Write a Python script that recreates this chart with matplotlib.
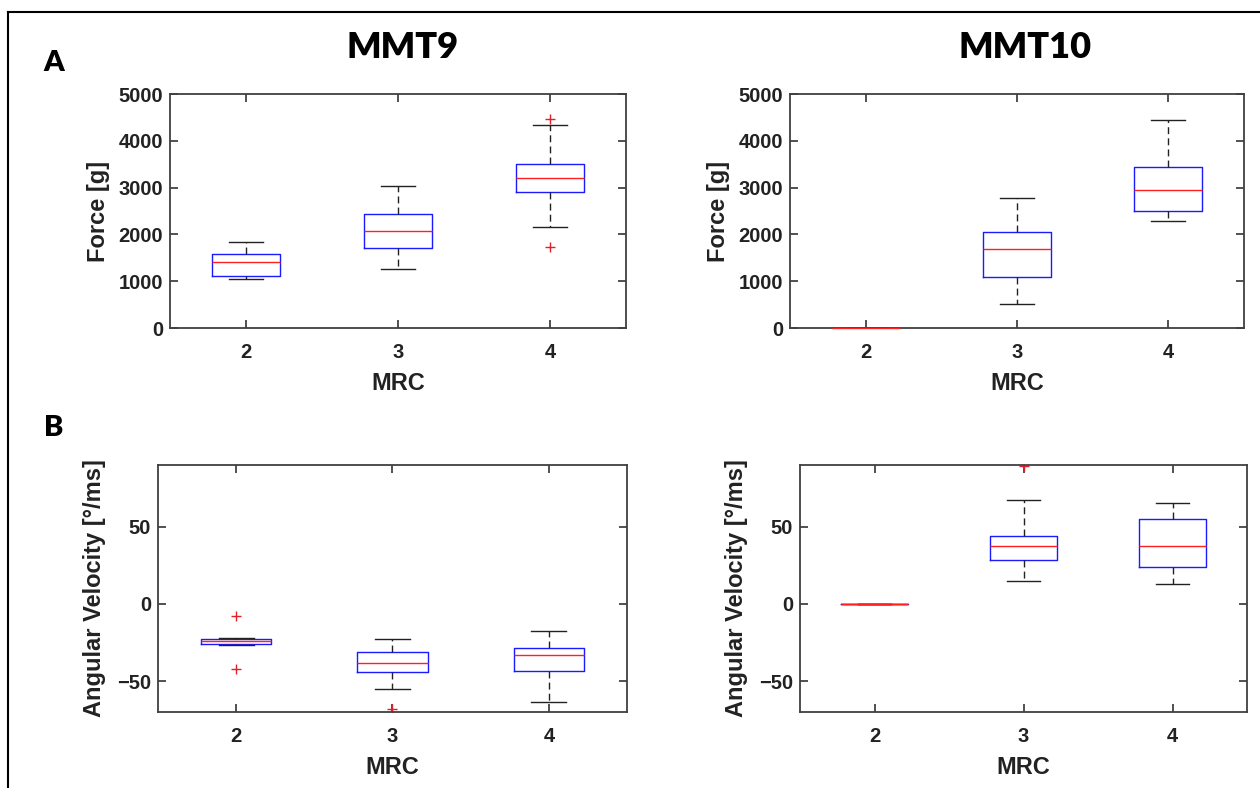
import matplotlib
matplotlib.use("Agg")
import matplotlib.pyplot as plt
from matplotlib.lines import Line2D

plt.rcParams['font.family'] = ['Liberation Sans', 'DejaVu Sans']
plt.rcParams['font.weight'] = 'bold'
plt.rcParams['axes.labelweight'] = 'bold'

mrc = [2, 3, 4]

# MMT9 force [g]
f9_whislo = [1050, 1265, 2160]
f9_q1 = [1115, 1720, 2915]
f9_med = [1420, 2065, 3195]
f9_q3 = [1580, 2435, 3500]
f9_whishi = [1845, 3035, 4330]
f9_fliers = [[], [], [4470, 1735]]

# MMT10 force [g]
f10_whislo = [0, 520, 2295]
f10_q1 = [0, 1100, 2505]
f10_med = [0, 1685, 2940]
f10_q3 = [0, 2055, 3430]
f10_whishi = [0, 2770, 4435]
f10_fliers = [[], [], []]

# MMT9 angular velocity [deg/ms]
v9_whislo = [-26.5, -55.2, -63.6]
v9_q1 = [-26.0, -44.0, -43.5]
v9_med = [-24.3, -38.1, -32.8]
v9_q3 = [-23.0, -31.3, -28.4]
v9_whishi = [-22.2, -22.4, -17.7]
v9_fliers = [[-7.7, -42.0], [-68.0], []]

# MMT10 angular velocity [deg/ms]
v10_whislo = [0, 14.7, 12.9]
v10_q1 = [0, 28.7, 23.7]
v10_med = [0, 37.3, 37.7]
v10_q3 = [0, 44.2, 55.0]
v10_whishi = [0, 67.5, 65.1]
v10_fliers = [[], [89.4], []]


def make_stats(lo, q1, med, q3, hi, fl):
    return [dict(whislo=lo[i], q1=q1[i], med=med[i], q3=q3[i], whishi=hi[i], fliers=fl[i])
            for i in range(len(med))]


def draw_box(ax, stats, ylim, yticks, ylabel, ylabelpad):
    ax.bxp(stats, positions=mrc, widths=0.45, capwidths=0.225, showfliers=True,
           boxprops=dict(color='#1a1aff', linewidth=1.0),
           medianprops=dict(color='#ff2020', linewidth=1.0, zorder=6, clip_on=False),
           whiskerprops=dict(color='#222222', linewidth=1.0, linestyle=(0, (5, 3))),
           capprops=dict(color='#222222', linewidth=1.0),
           flierprops=dict(marker='+', markeredgecolor='#e0202a', markersize=7, linestyle='none'))
    ax.set_xlim(1.5, 4.5)
    ax.set_ylim(*ylim)
    ax.set_yticks(yticks)
    ax.set_xticks(mrc)
    ax.set_xticklabels([str(m) for m in mrc])
    ax.tick_params(direction='in', top=True, right=True, length=6, width=1.2,
                   labelsize=14.5, color='#333333', labelcolor='#222222')
    ax.tick_params(axis='x', pad=11)
    ax.tick_params(axis='y', pad=5)
    for s in ax.spines.values():
        s.set_color('#404040')
        s.set_linewidth(1.3)
    ax.set_xlabel('MRC', fontsize=17, color='#222222', labelpad=7)
    ax.set_ylabel(ylabel, fontsize=17, color='#222222', labelpad=ylabelpad)


fig = plt.figure(figsize=(12.6, 7.88), dpi=100)

ax1 = fig.add_axes([170/1260, 1-328/788, 456/1260, 234/788])
ax2 = fig.add_axes([790/1260, 1-328/788, 454/1260, 234/788])
ax3 = fig.add_axes([158/1260, 1-712/788, 469/1260, 247/788])
ax4 = fig.add_axes([800/1260, 1-712/788, 447/1260, 247/788])

draw_box(ax1, make_stats(f9_whislo, f9_q1, f9_med, f9_q3, f9_whishi, f9_fliers),
         (0, 5000), [0, 1000, 2000, 3000, 4000, 5000], 'Force [g]', 6)
draw_box(ax2, make_stats(f10_whislo, f10_q1, f10_med, f10_q3, f10_whishi, f10_fliers),
         (0, 5000), [0, 1000, 2000, 3000, 4000, 5000], 'Force [g]', 6)
draw_box(ax3, make_stats(v9_whislo, v9_q1, v9_med, v9_q3, v9_whishi, v9_fliers),
         (-70, 90), [-50, 0, 50], 'Angular Velocity [°/ms]', 8)
draw_box(ax4, make_stats(v10_whislo, v10_q1, v10_med, v10_q3, v10_whishi, v10_fliers),
         (-70, 90), [-50, 0, 50], 'Angular Velocity [°/ms]', 8)

title_font = ['Lato', 'DejaVu Sans']
fig.text(403/1260, 1-47/788, 'MMT9', family=title_font, fontsize=26, fontweight='heavy',
         ha='center', va='center')
fig.text(1025/1260, 1-47/788, 'MMT10', family=title_font, fontsize=26, fontweight='heavy',
         ha='center', va='center')
fig.text(54/1260, 1-63/788, 'A', family=title_font, fontsize=21, fontweight='heavy',
         ha='center', va='center')
fig.text(54/1260, 1-428/788, 'B', family=title_font, fontsize=21, fontweight='heavy',
         ha='center', va='center')

# outer frame (cut at right and bottom in the original)
fig.add_artist(Line2D([8/1260, 1], [1-12/788, 1-12/788], color='black', linewidth=1.5,
                      transform=fig.transFigure))
fig.add_artist(Line2D([8/1260, 8/1260], [0, 1-12/788], color='black', linewidth=1.5,
                      transform=fig.transFigure))

fig.savefig('out.png', dpi=100)
